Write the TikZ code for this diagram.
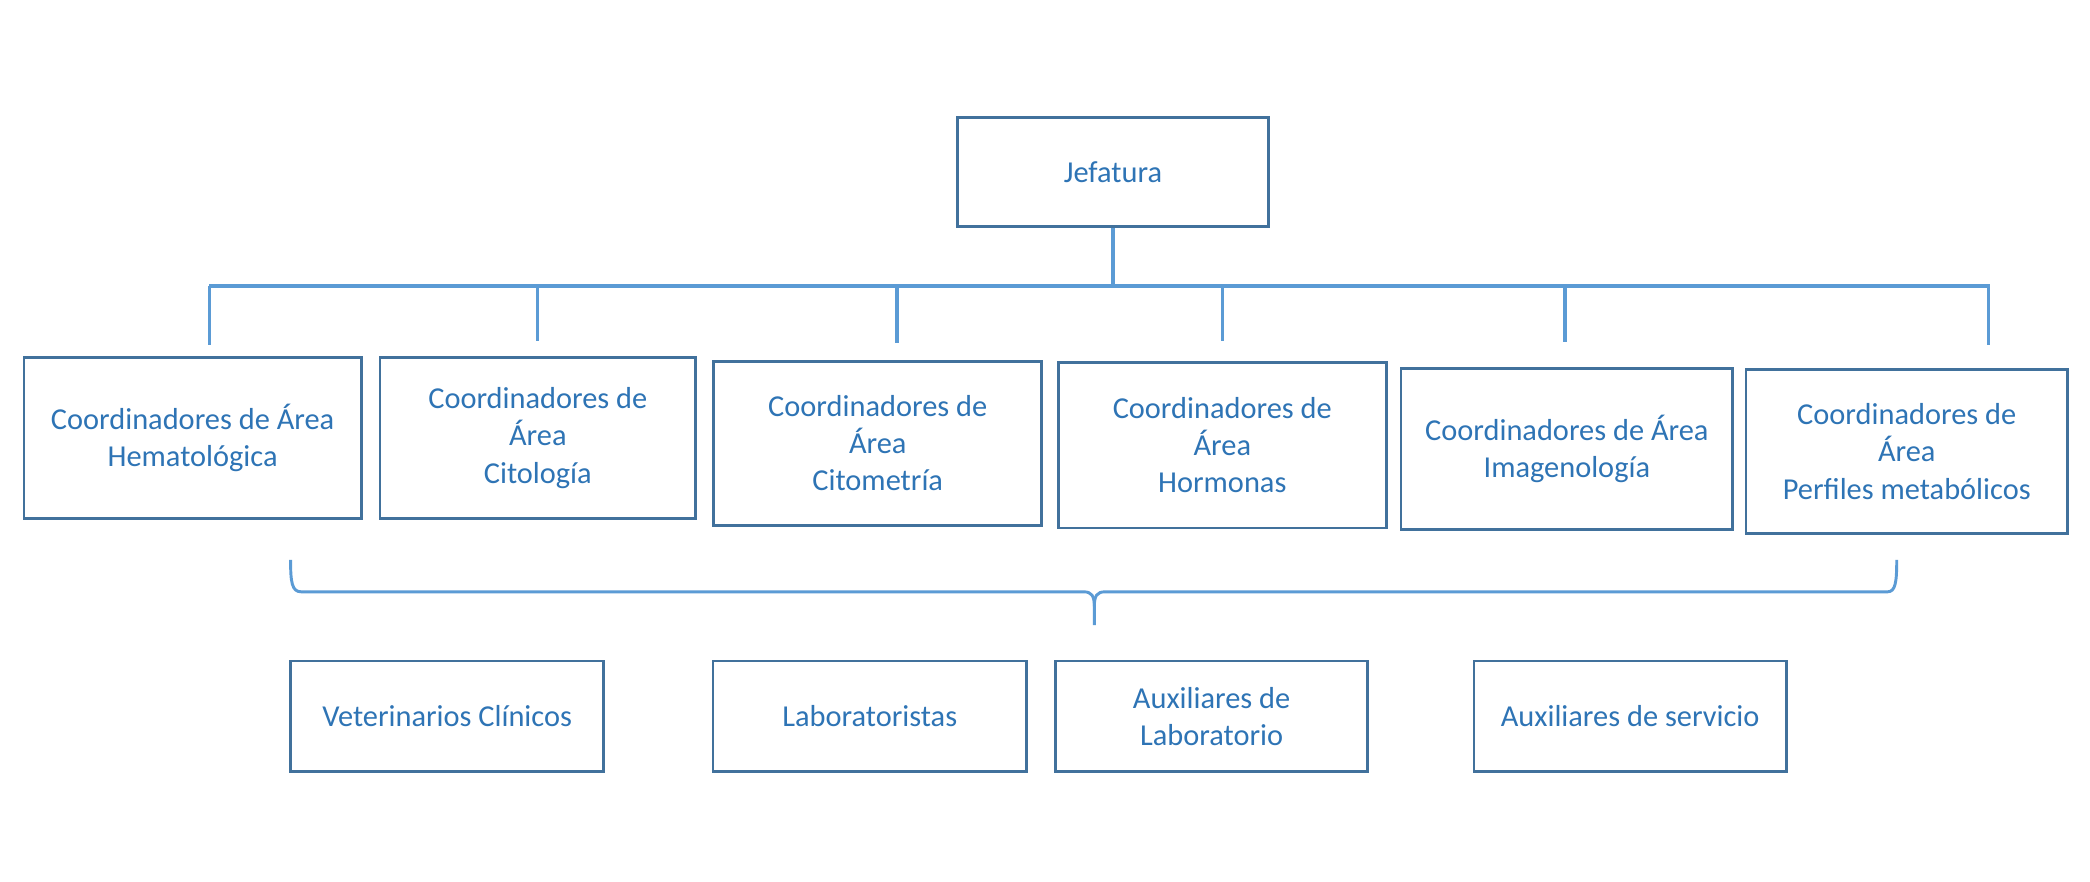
\documentclass[tikz,border=0pt]{standalone}
\usepackage{fontspec}
\setmainfont{Carlito}
\definecolor{boxc}{HTML}{41719C}
\definecolor{txtc}{HTML}{2E74B5}
\definecolor{linec}{HTML}{5B9BD5}
\tikzset{
  box/.style={draw=boxc, line width=1pt, fill=white, text=txtc, align=center, inner sep=0pt,
    font=\fontsize{11.4}{14}\selectfont},
  conn/.style={draw=linec, line width=1.25pt},
  bracec/.style={draw=linec, line width=1.1pt},
}
\begin{document}
\begin{tikzpicture}[x=0.5pt,y=-0.5pt]
\useasboundingbox[fill=white] (0,0) rectangle (1568,661);

% top
\node[box, minimum width=233*0.5pt, minimum height=82*0.5pt] (jef) at (835,129) {Jefatura};

% row 2
\node[box, minimum width=253*0.5pt, minimum height=121*0.5pt] (c1) at (144.5,328.5) {Coordinadores de Área\\Hematológica};
\node[box, minimum width=237*0.5pt, minimum height=121*0.5pt] (c2) at (403.5,328.5) {Coordinadores de\\Área\\Citología};
\node[box, minimum width=246*0.5pt, minimum height=123*0.5pt] (c3) at (658.5,332.5) {Coordinadores de\\Área\\Citometría};
\node[box, minimum width=246*0.5pt, minimum height=124*0.5pt] (c4) at (917,334) {Coordinadores de\\Área\\Hormonas};
\node[box, minimum width=249*0.5pt, minimum height=121*0.5pt] (c5) at (1175.5,336.75) {Coordinadores de Área\\Imagenología};
\node[box, minimum width=241*0.5pt, minimum height=123*0.5pt] (c6) at (1430.5,338.75) {Coordinadores de\\Área\\Perfiles metabólicos};

% row 3
\node[box, minimum width=235*0.5pt, minimum height=83*0.5pt] (vet) at (335.5,537.5) {Veterinarios Clínicos};
\node[box, minimum width=235*0.5pt, minimum height=83*0.5pt] (lab) at (652.5,537.5) {Laboratoristas};
\node[box, minimum width=234*0.5pt, minimum height=83*0.5pt] (aux) at (909,537.5) {Auxiliares de\\Laboratorio};
\node[box, minimum width=234.5*0.5pt, minimum height=83*0.5pt] (srv) at (1223,537.5) {Auxiliares de servicio};

% bus
\coordinate (busL) at (157,214.5);
\coordinate (busR) at (1493,214.5);
\coordinate (d1) at (157,259);
\coordinate (d2) at (403,256);
\coordinate (d3) at (673,257);
\coordinate (d4) at (917,256);
\coordinate (d5) at (1174,256.5);
\coordinate (d6) at (1492,258.5);

\draw[conn] (jef.south) -- (jef.south |- busL);
\draw[conn] (busL) -- (busR);
\draw[conn] (busL) -- (d1);
\foreach \d in {d2,d3,d4,d5} \draw[conn] (\d |- busL) -- (\d);
\draw[conn] (d6 |- busR) -- (d6);

% brace
\coordinate (brL) at (218,420);
\coordinate (brR) at (1423,420);
\coordinate (brM) at (821,469);
\draw[bracec] (brL) .. controls (218,437) and (219,444) .. (226,444) -- (813,444)
  .. controls (819,444) and (821,447) .. (821,455) -- (brM);
\draw[bracec] (821,455) .. controls (821,447) and (823,444) .. (829,444) -- (1416,444)
  .. controls (1422,444) and (1423,437) .. (brR);
\end{tikzpicture}
\end{document}
